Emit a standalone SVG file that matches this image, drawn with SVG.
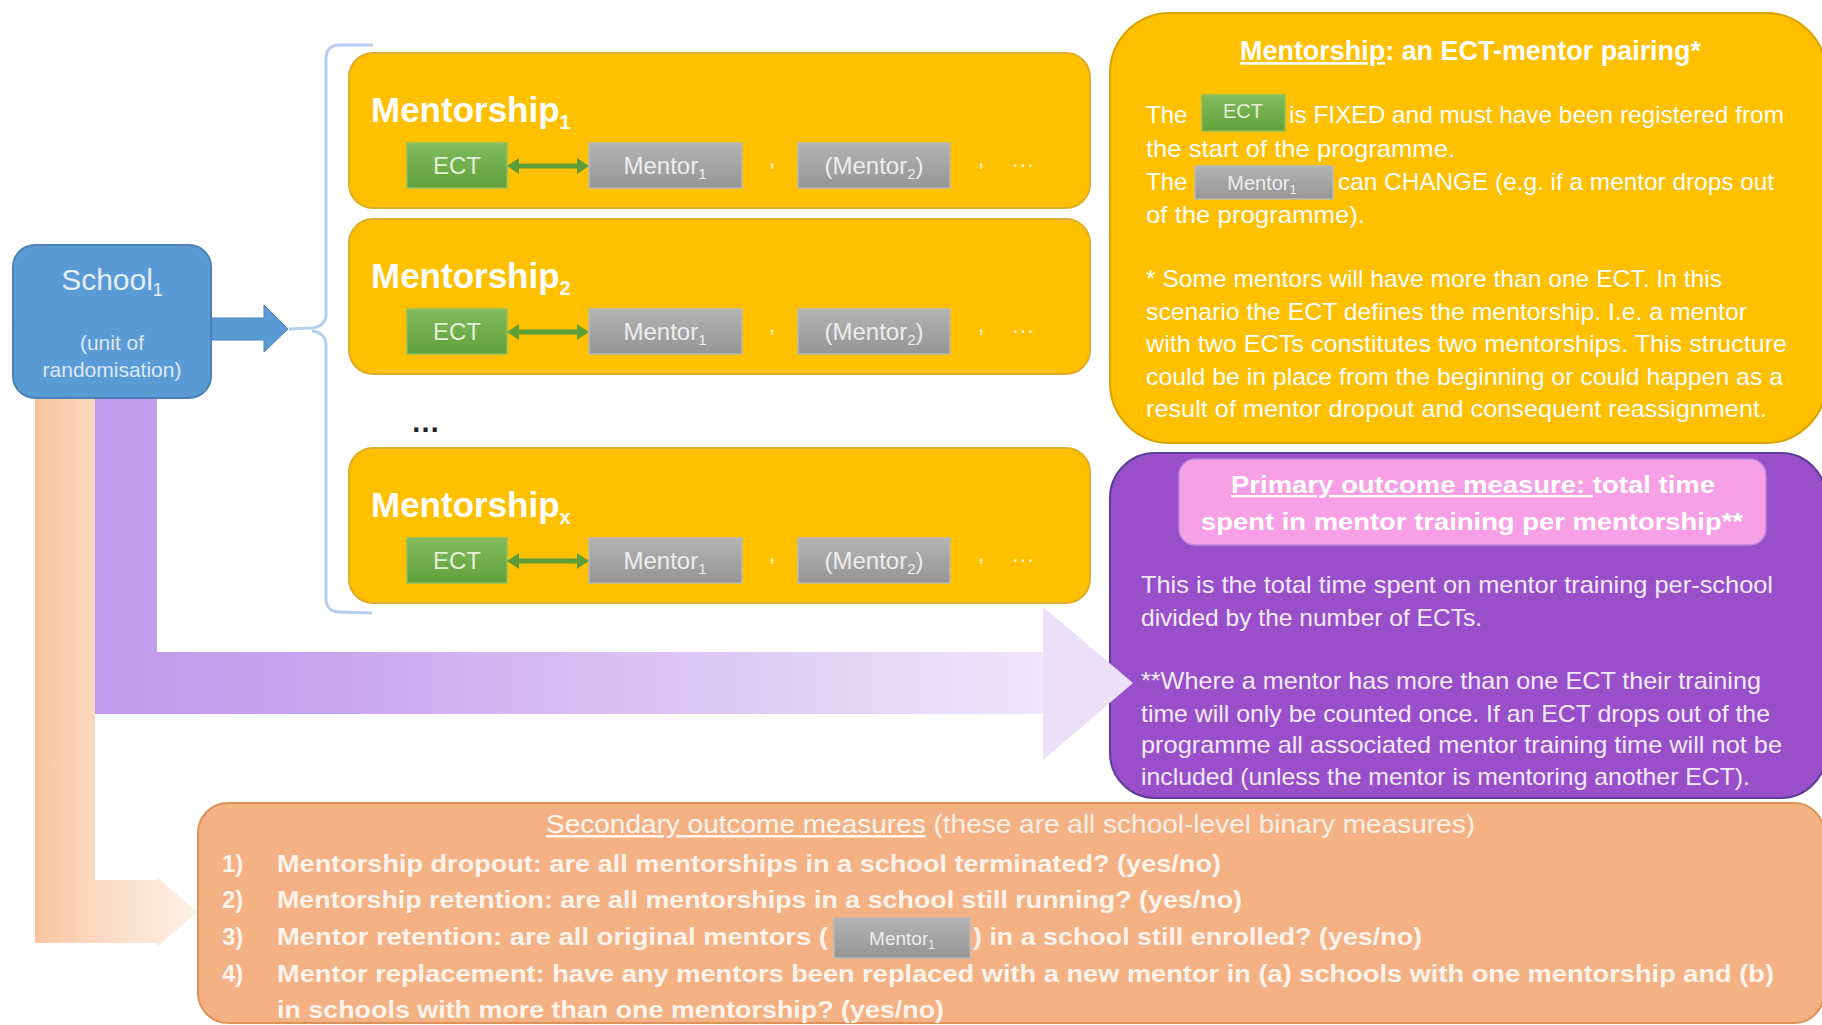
<svg xmlns="http://www.w3.org/2000/svg" width="1822" height="1025" viewBox="0 0 1822 1025">
<defs>
  <linearGradient id="gGreen" x1="0" y1="0" x2="0" y2="1">
    <stop offset="0" stop-color="#82BB5E"/><stop offset="1" stop-color="#61A139"/>
  </linearGradient>
  <linearGradient id="gGrey" x1="0" y1="0" x2="0" y2="1">
    <stop offset="0" stop-color="#B3B3B3"/><stop offset="1" stop-color="#959595"/>
  </linearGradient>
  <linearGradient id="gPurple" x1="0" y1="0" x2="1" y2="0">
    <stop offset="0" stop-color="#C198EC"/><stop offset="0.2" stop-color="#C7A3EE"/><stop offset="1" stop-color="#EEE6FA"/>
  </linearGradient>
  <linearGradient id="gPeach" x1="0" y1="0" x2="1" y2="0">
    <stop offset="0" stop-color="#F9C5A0"/><stop offset="0.4" stop-color="#FCD9C2"/><stop offset="1" stop-color="#FEF1E8"/>
  </linearGradient>
  <marker id="ga" markerUnits="userSpaceOnUse" viewBox="0 0 12 16" markerWidth="12" markerHeight="16" refX="0" refY="8" orient="auto-start-reverse">
    <path d="M0,0 L12,8 L0,16 z" fill="#5E9E3A"/>
  </marker>
  <style>
    text { font-family: "Liberation Sans", Arial, sans-serif; }
    .mbox { fill: #FFC000; stroke: #DDAE2A; stroke-width: 2; }
    .mtitle { font-size: 35px; font-weight: bold; fill: #FFFFFF; }
    .ect { fill: url(#gGreen); stroke: #8DC063; stroke-width: 1.5; }
    .ment { fill: url(#gGrey); stroke: #B8B8B8; stroke-width: 1.5; }
    .ectt { font-size: 24px; fill: #E2F0D9; text-anchor: middle; }
    .mentt { font-size: 24px; fill: #EDEDED; text-anchor: middle; }
    .sep { font-size: 24px; fill: #FFF3D0; text-anchor: middle; }
    .dbl { stroke: #5E9E3A; stroke-width: 5; marker-start: url(#ga); marker-end: url(#ga); }
    .body { font-size: 24px; fill: #FFFFFF; }
    .pbody { font-size: 24px; fill: #F3EAF9; }
    .pink { font-size: 24px; font-weight: bold; fill: #FFFFFF; }
    .sec { font-size: 24px; font-weight: bold; fill: #FFF4EC; }
    .sech { font-size: 25px; fill: #FDF0E6; }
  </style>
</defs>

<g id="connectors">
  <polygon id="peach-arrow" points="35,390 95,390 95,880 157,880 157,877 197,912 157,947 157,943 35,943" fill="url(#gPeach)"/>
  <polygon id="purple-arrow-shaft" points="95,390 157,390 157,652 1043,652 1043,714 95,714" fill="url(#gPurple)"/>
  <polygon id="blue-arrow" points="205,318 264,318 264,305 288,329 264,352 264,340 205,340" fill="#5B9BD5" stroke="#4A84C0" stroke-width="1"/>
  <path id="brace" d="M373,45 L340,45 Q326,45 326,59 L326,314 Q326,326 312,328 L289,329 M312,331 Q326,333 326,345 L326,598 Q326,612 340,612 L372,613" fill="none" stroke="#B4D0EE" stroke-width="3"/>
</g>

<g id="school">
  <rect x="13" y="245" width="198" height="153" rx="22" fill="#5B9BD5" stroke="#4C80BA" stroke-width="2"/>
  <text x="112" y="290" font-size="30" fill="#E4EEF8" text-anchor="middle">School<tspan font-size="18" dy="6">1</tspan></text>
  <text x="112" y="350" font-size="21" fill="#DCE9F6" text-anchor="middle">(unit of</text>
  <text x="112" y="377" font-size="21" fill="#DCE9F6" text-anchor="middle">randomisation)</text>
</g>

<g id="mentorship1">
  <rect class="mbox" x="349" y="53" width="741" height="155" rx="24"/>
  <text class="mtitle" x="371" y="122">Mentorship<tspan font-size="20" dy="7">1</tspan></text>
  <rect class="ect" x="407" y="143" width="100" height="45"/>
  <text class="ectt" x="457" y="174">ECT</text>
  <line class="dbl" x1="519" y1="166" x2="577" y2="166"/>
  <rect class="ment" x="589" y="143" width="153" height="45"/>
  <text class="mentt" x="665" y="174">Mentor<tspan font-size="15" dy="5">1</tspan></text>
  <text class="sep" x="772" y="166">,</text>
  <rect class="ment" x="798" y="143" width="152" height="45"/>
  <text class="mentt" x="874" y="174">(Mentor<tspan font-size="15" dy="5">2</tspan><tspan dy="-5">)</tspan></text>
  <text class="sep" x="981" y="166">,</text>
  <text class="sep" x="1023" y="167" font-size="22">…</text>
</g>

<g id="mentorship2" transform="translate(0,166)">
  <rect class="mbox" x="349" y="53" width="741" height="155" rx="24"/>
  <text class="mtitle" x="371" y="122">Mentorship<tspan font-size="20" dy="7">2</tspan></text>
  <rect class="ect" x="407" y="143" width="100" height="45"/>
  <text class="ectt" x="457" y="174">ECT</text>
  <line class="dbl" x1="519" y1="166" x2="577" y2="166"/>
  <rect class="ment" x="589" y="143" width="153" height="45"/>
  <text class="mentt" x="665" y="174">Mentor<tspan font-size="15" dy="5">1</tspan></text>
  <text class="sep" x="772" y="166">,</text>
  <rect class="ment" x="798" y="143" width="152" height="45"/>
  <text class="mentt" x="874" y="174">(Mentor<tspan font-size="15" dy="5">2</tspan><tspan dy="-5">)</tspan></text>
  <text class="sep" x="981" y="166">,</text>
  <text class="sep" x="1023" y="167" font-size="22">…</text>
</g>

<text id="ellipsis" x="411" y="432" font-size="29" font-weight="bold" fill="#222222">…</text>

<g id="mentorshipx" transform="translate(0,395)">
  <rect class="mbox" x="349" y="53" width="741" height="155" rx="24"/>
  <text class="mtitle" x="371" y="122">Mentorship<tspan font-size="20" dy="7">x</tspan></text>
  <rect class="ect" x="407" y="143" width="100" height="45"/>
  <text class="ectt" x="457" y="174">ECT</text>
  <line class="dbl" x1="519" y1="166" x2="577" y2="166"/>
  <rect class="ment" x="589" y="143" width="153" height="45"/>
  <text class="mentt" x="665" y="174">Mentor<tspan font-size="15" dy="5">1</tspan></text>
  <text class="sep" x="772" y="166">,</text>
  <rect class="ment" x="798" y="143" width="152" height="45"/>
  <text class="mentt" x="874" y="174">(Mentor<tspan font-size="15" dy="5">2</tspan><tspan dy="-5">)</tspan></text>
  <text class="sep" x="981" y="166">,</text>
  <text class="sep" x="1023" y="167" font-size="22">…</text>
</g>

<g id="definition">
  <rect x="1110" y="13" width="716" height="430" rx="60" fill="#FFC000" stroke="#D9A300" stroke-width="2"/>
  <text x="1240" y="60" font-size="27" font-weight="bold" fill="#FFFFFF" textLength="461" lengthAdjust="spacingAndGlyphs"><tspan text-decoration="underline">Mentorship</tspan>: an ECT-mentor pairing*</text>
  <text class="body" x="1146" y="123">The</text>
  <rect class="ect" x="1202" y="95" width="83" height="36"/>
  <text x="1243" y="118" font-size="20" fill="#E2F0D9" text-anchor="middle">ECT</text>
  <text class="body" x="1289" y="123" textLength="495" lengthAdjust="spacingAndGlyphs">is FIXED and must have been registered from</text>
  <text class="body" x="1146" y="157" textLength="309" lengthAdjust="spacingAndGlyphs">the start of the programme.</text>
  <text class="body" x="1146" y="190">The</text>
  <rect class="ment" x="1195" y="166" width="138" height="33"/>
  <text x="1262" y="190" font-size="20" fill="#EDEDED" text-anchor="middle">Mentor<tspan font-size="13" dy="4">1</tspan></text>
  <text class="body" x="1338" y="190" textLength="436" lengthAdjust="spacingAndGlyphs">can CHANGE (e.g. if a mentor drops out</text>
  <text class="body" x="1146" y="223" textLength="219" lengthAdjust="spacingAndGlyphs">of the programme).</text>
  <text class="body" x="1146" y="287" textLength="576" lengthAdjust="spacingAndGlyphs">* Some mentors will have more than one ECT. In this</text>
  <text class="body" x="1146" y="320" textLength="601" lengthAdjust="spacingAndGlyphs">scenario the ECT defines the mentorship. I.e. a mentor</text>
  <text class="body" x="1146" y="352" textLength="641" lengthAdjust="spacingAndGlyphs">with two ECTs constitutes two mentorships. This structure</text>
  <text class="body" x="1146" y="385" textLength="637" lengthAdjust="spacingAndGlyphs">could be in place from the beginning or could happen as a</text>
  <text class="body" x="1146" y="417" textLength="621" lengthAdjust="spacingAndGlyphs">result of mentor dropout and consequent reassignment.</text>
</g>

<g id="primary">
  <rect x="1110" y="453" width="716" height="345" rx="45" fill="#994FCA" stroke="#5D3E99" stroke-width="2"/>
  <rect x="1179" y="459" width="587" height="86" rx="16" fill="#F7A0E6" stroke="#B98ADB" stroke-width="1.5"/>
  <text class="pink" x="1231" y="493" textLength="484" lengthAdjust="spacingAndGlyphs"><tspan text-decoration="underline">Primary outcome measure: </tspan>total time</text>
  <text class="pink" x="1201" y="530" textLength="542" lengthAdjust="spacingAndGlyphs">spent in mentor training per mentorship**</text>
  <text class="pbody" x="1141" y="593" textLength="632" lengthAdjust="spacingAndGlyphs">This is the total time spent on mentor training per-school</text>
  <text class="pbody" x="1141" y="626" textLength="341" lengthAdjust="spacingAndGlyphs">divided by the number of ECTs.</text>
  <text class="pbody" x="1141" y="689" textLength="620" lengthAdjust="spacingAndGlyphs">**Where a mentor has more than one ECT their training</text>
  <text class="pbody" x="1141" y="722" textLength="629" lengthAdjust="spacingAndGlyphs">time will only be counted once. If an ECT drops out of the</text>
  <text class="pbody" x="1141" y="753" textLength="641" lengthAdjust="spacingAndGlyphs">programme all associated mentor training time will not be</text>
  <text class="pbody" x="1141" y="785" textLength="609" lengthAdjust="spacingAndGlyphs">included (unless the mentor is mentoring another ECT).</text>
</g>

<polygon id="purple-arrow-head" points="1043,648 1043,607 1133,683 1043,760 1043,718" fill="#EAE0F8"/>

<g id="secondary">
  <rect x="198" y="803" width="1626" height="220" rx="30" fill="#F4B183" stroke="#DD9258" stroke-width="2"/>
  <text class="sech" x="546" y="833" textLength="929" lengthAdjust="spacingAndGlyphs"><tspan text-decoration="underline" fill="#FFF6F0">Secondary outcome measures</tspan> (these are all school-level binary measures)</text>
  <text class="sec" x="222" y="872">1)</text>
  <text class="sec" x="277" y="872" textLength="944" lengthAdjust="spacingAndGlyphs">Mentorship dropout: are all mentorships in a school terminated? (yes/no)</text>
  <text class="sec" x="222" y="908">2)</text>
  <text class="sec" x="277" y="908" textLength="965" lengthAdjust="spacingAndGlyphs">Mentorship retention: are all mentorships in a school still running? (yes/no)</text>
  <text class="sec" x="222" y="945">3)</text>
  <text class="sec" x="277" y="945" textLength="551" lengthAdjust="spacingAndGlyphs">Mentor retention: are all original mentors (</text>
  <rect class="ment" x="834" y="918" width="136" height="40"/>
  <text x="902" y="945" font-size="19" fill="#EDEDED" text-anchor="middle">Mentor<tspan font-size="12" dy="4">1</tspan></text>
  <text class="sec" x="973" y="945" textLength="449" lengthAdjust="spacingAndGlyphs">) in a school still enrolled? (yes/no)</text>
  <text class="sec" x="222" y="982">4)</text>
  <text class="sec" x="277" y="982" textLength="1497" lengthAdjust="spacingAndGlyphs">Mentor replacement: have any mentors been replaced with a new mentor in (a) schools with one mentorship and (b)</text>
  <text class="sec" x="277" y="1018" textLength="667" lengthAdjust="spacingAndGlyphs">in schools with more than one mentorship? (yes/no)</text>
</g>
</svg>
